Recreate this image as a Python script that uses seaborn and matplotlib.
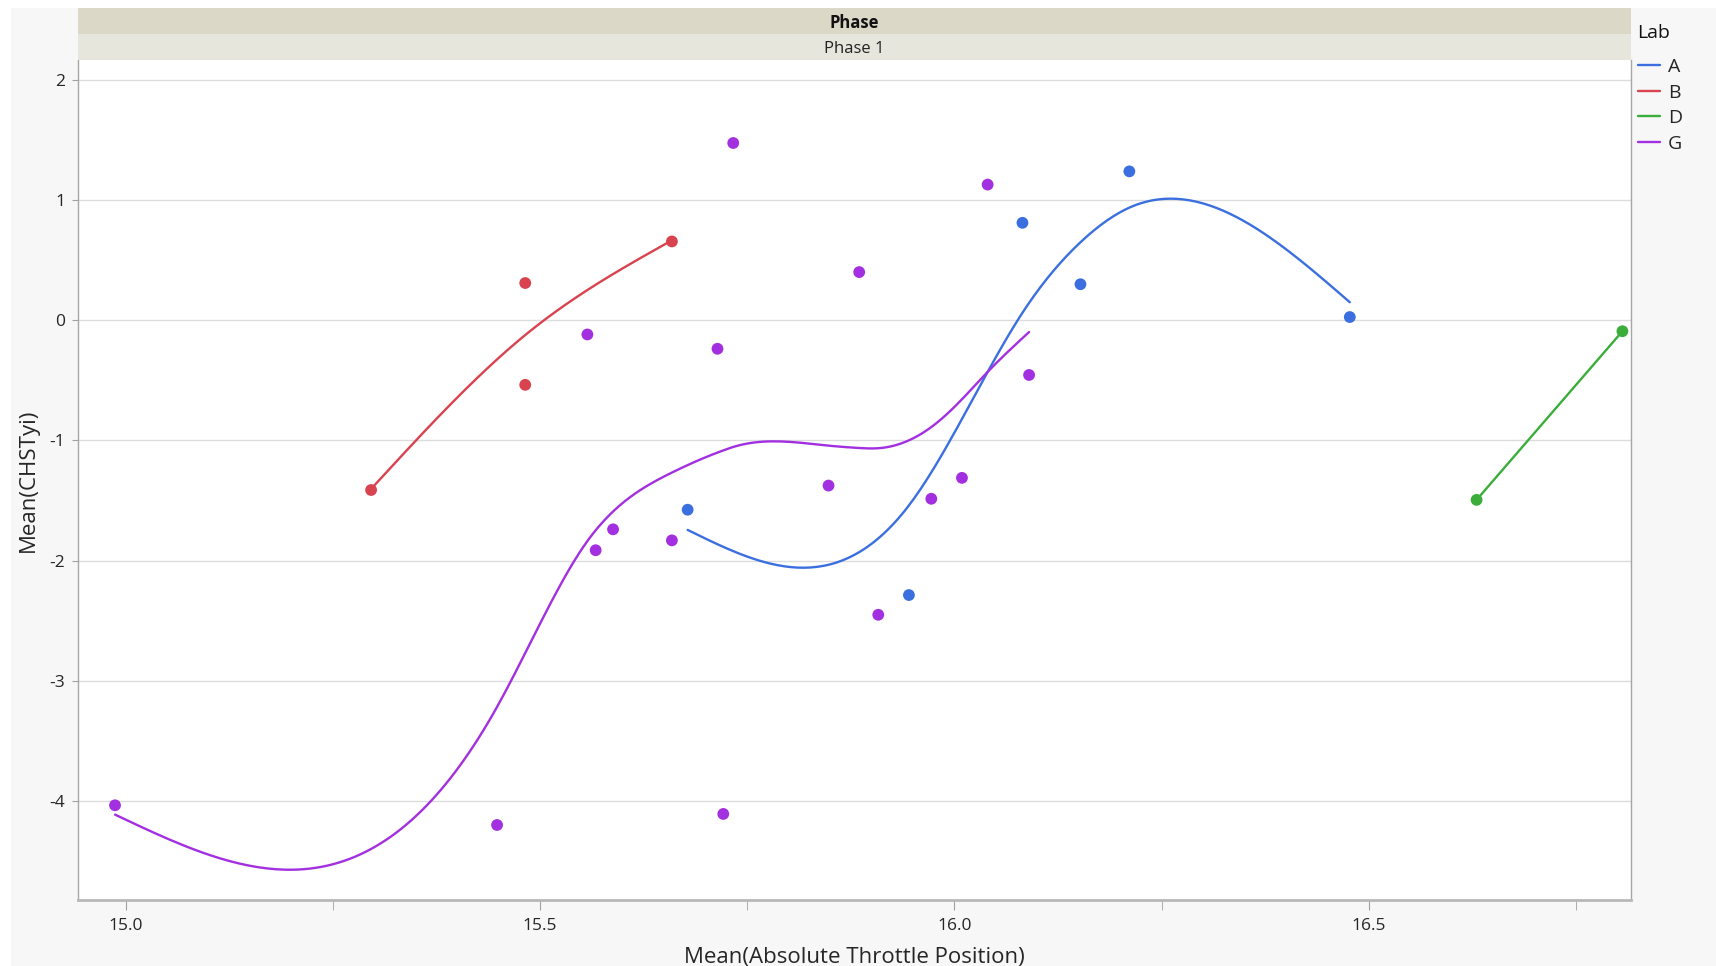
import numpy as np
import pandas as pd
import seaborn as sns
import matplotlib.pyplot as plt
from matplotlib.patches import Rectangle

# values
labs = ["A", "B", "D", "G"]
colors = ["#3b6fe0", "#d9424f", "#3aad3a", "#a22fe0"]

a_x = [15.678, 15.945, 16.082, 16.152, 16.211, 16.477]
a_y = [-1.576, -2.286, 0.811, 0.300, 1.239, 0.027]
b_x = [15.296, 15.482, 15.482, 15.659]
b_y = [-1.412, 0.310, -0.537, 0.656]
d_x = [16.630, 16.806]
d_y = [-1.494, -0.091]
g_x = [14.987, 15.448, 15.557, 15.567, 15.588, 15.659, 15.714, 15.721,
       15.733, 15.848, 15.885, 15.908, 15.972, 16.009, 16.040, 16.090]
g_y = [-4.035, -4.199, -0.118, -1.913, -1.739, -1.831, -0.237, -4.107,
       1.475, -1.375, 0.401, -2.450, -1.485, -1.311, 1.129, -0.455]

x_ticks = [15.0, 15.5, 16.0, 16.5]
x_minor = [15.25, 15.75, 16.25, 16.75]
y_ticks = [2, 1, 0, -1, -2, -3, -4]


def smoother(x, y, lam=0.025, num=200):
    """Cubic smoothing spline on standardized x (like a JMP smoother)."""
    x = np.asarray(x, float)
    y = np.asarray(y, float)
    mu, sd = x.mean(), x.std(ddof=1)
    xs = (x - mu) / sd
    ux, inv, w = np.unique(xs, return_inverse=True, return_counts=True)
    yb = np.bincount(inv, weights=y) / w
    n = len(ux)
    grid = np.linspace(ux[0], ux[-1], num)
    if n < 3:
        fit = np.polyval(np.polyfit(ux, yb, 1), grid)
        return grid * sd + mu, fit
    h = np.diff(ux)
    Q = np.zeros((n, n - 2))
    R = np.zeros((n - 2, n - 2))
    for j in range(n - 2):
        Q[j, j] = 1 / h[j]
        Q[j + 1, j] = -1 / h[j] - 1 / h[j + 1]
        Q[j + 2, j] = 1 / h[j + 1]
        R[j, j] = (h[j] + h[j + 1]) / 3
        if j < n - 3:
            R[j, j + 1] = R[j + 1, j] = h[j + 1] / 6
    K = Q @ np.linalg.solve(R, Q.T)
    g = np.linalg.solve(np.diag(w) + lam * K, w * yb)
    gam = np.concatenate([[0], np.linalg.solve(R, Q.T @ g), [0]])
    i = np.clip(np.searchsorted(ux, grid) - 1, 0, n - 2)
    a = grid - ux[i]
    b = ux[i + 1] - grid
    hi = h[i]
    f = (a * g[i + 1] + b * g[i]) / hi - a * b / 6 * ((1 + a / hi) * gam[i + 1] + (1 + b / hi) * gam[i])
    return grid * sd + mu, f


series = {"A": (a_x, a_y), "B": (b_x, b_y), "D": (d_x, d_y), "G": (g_x, g_y)}
pts = pd.concat([pd.DataFrame({"x": v[0], "y": v[1], "Lab": k}) for k, v in series.items()])
fits = []
for k, (xx, yy) in series.items():
    sx, sy = smoother(xx, yy)
    fits.append(pd.DataFrame({"x": sx, "y": sy, "Lab": k}))
fits = pd.concat(fits)
palette = dict(zip(labs, colors))

sns.set_style("white")
plt.rcParams["font.family"] = ["Open Sans", "DejaVu Sans"]
plt.rcParams["axes.unicode_minus"] = False

fig = plt.figure(figsize=(17.16, 9.66), dpi=100, facecolor="white")
fig.patches.append(Rectangle((11 / 1716, 0), 1, 1 - 8 / 966, transform=fig.transFigure,
                             facecolor="#f7f7f7", edgecolor="none", zorder=-10))
left, right, bottom, top = 0.0453, 0.9503, 0.0687, 0.9377
ax = fig.add_axes([left, bottom, right - left, top - bottom])

# header strips
band1 = (1 - 34.3 / 966, 1 - 8.5 / 966)
fig.patches.append(Rectangle((left, band1[0]), right - left, band1[1] - band1[0],
                             transform=fig.transFigure, facecolor="#dbd8c8", edgecolor="none"))
fig.patches.append(Rectangle((left, top), right - left, band1[0] - top,
                             transform=fig.transFigure, facecolor="#e7e6dd", edgecolor="none"))
fig.text((left + right) / 2, 1 - 22.6 / 966, "Phase", ha="center", va="center",
         fontsize=12, fontweight="bold", color="#111111")
fig.text((left + right) / 2, 1 - 49 / 966, "Phase 1", ha="center", va="center",
         fontsize=12, color="#222222")

sns.lineplot(data=fits, x="x", y="y", hue="Lab", hue_order=labs, palette=palette,
             sort=False, estimator=None, lw=1.7, ax=ax)
sns.scatterplot(data=pts, x="x", y="y", hue="Lab", hue_order=labs, palette=palette,
                s=72, edgecolor="none", legend=False, ax=ax, zorder=3)

ax.set_xlim(14.942, 16.816)
ax.set_ylim(-4.82, 2.164)
ax.set_xticks(x_ticks)
ax.set_xticklabels([f"{t:.1f}" for t in x_ticks])
ax.set_xticks(x_minor, minor=True)
ax.set_yticks(y_ticks)
ax.set_yticklabels([str(t) for t in y_ticks])
ax.grid(axis="y", color="#dcdcdc", lw=1)
ax.tick_params(axis="x", which="both", direction="out", length=7, color="#a0a0a0",
               labelsize=12.5, pad=6, bottom=True)
ax.tick_params(axis="y", direction="out", length=4, color="#a0a0a0", labelsize=12.5, pad=5, left=True)
for s in ["left", "right"]:
    ax.spines[s].set_color("#a6a6a6")
    ax.spines[s].set_linewidth(1)
ax.spines["bottom"].set_color("#b8b8b8")
ax.spines["bottom"].set_linewidth(2)
ax.spines["top"].set_visible(False)

ax.set_xlabel("Mean(Absolute Throttle Position)", fontsize=16)
ax.set_ylabel("Mean(CHSTyi)", fontsize=16)
ax.xaxis.set_label_coords(0.5, -(957.5 - 899.6) / 839.4)
ax.xaxis.label.set_va("center")
ax.yaxis.set_label_coords(-(77.7 - 28.7) / 1553, 0.5)
ax.yaxis.label.set_va("center")

handles, labels = ax.get_legend_handles_labels()
ax.get_legend().remove()
fig.text(1637 / 1716, 1 - 32.5 / 966, "Lab", ha="left", va="center", fontsize=14, color="#111111")
leg = fig.legend(handles[:4], labels[:4], loc="upper left",
                 bbox_to_anchor=(1637.7 / 1716, 1 - 58 / 966), frameon=False,
                 fontsize=14, handlelength=1.15, handletextpad=0.4,
                 labelspacing=0.39, borderaxespad=0, borderpad=0)

fig.savefig("out.png", dpi=100)
